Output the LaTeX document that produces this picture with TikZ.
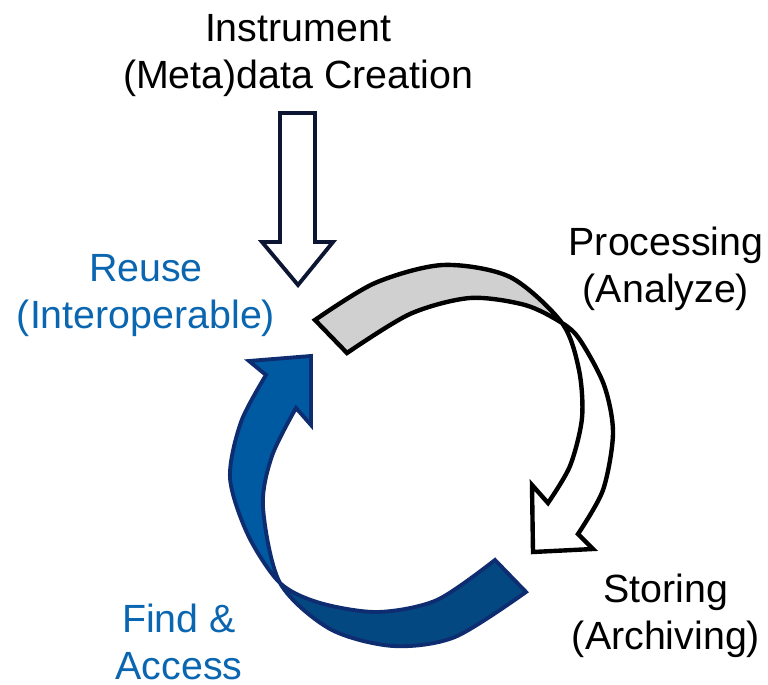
\documentclass[tikz,border=0pt]{standalone}
\usepackage{fontspec}
\setmainfont{Liberation Sans}
\definecolor{inputnavy}{RGB}{12,22,51}
\definecolor{frontblue}{RGB}{0,90,162}
\definecolor{backblue}{RGB}{4,72,130}
\definecolor{blueedge}{RGB}{14,44,112}
\definecolor{backgray}{RGB}{208,208,208}
\definecolor{labelblue}{RGB}{10,102,176}
\begin{document}
\begin{tikzpicture}[x=0.02cm, y=-0.02cm]
    \useasboundingbox (0,0) rectangle (768,685);
    \begin{scope}
        \tikzstyle{every node}=[inner sep=0, align=center, font=\fontsize{22.4pt}{26.6pt}\selectfont]
        \node (create) at (298,55.5) {Instrument\\(Meta)data Creation};
        \node[text=labelblue] (reuse) at (146,295.5) {Reuse\\(Interoperable)};
        \node (process) at (666,268.5) {Processing\\(Analyze)};
        \node (store) at (666,615.5) {Storing\\(Archiving)};
        \node[text=labelblue] (find) at (179,642) {Find \&\\Access};
    \end{scope}
    \begin{scope}
        \tikzstyle{input arrow}=[draw=inputnavy, line width=2.2pt, fill=white]
        \path[input arrow] (280,113) -- (315,113) -- (315,242) -- (333,242)
            -- (298,285) -- (262,242) -- (280,242) -- cycle;
    \end{scope}
    \begin{scope}
        \def\processpath{(315,320)
            -- plot[smooth] coordinates {(315,320) (375,283) (443,265) (510,277) (562,323)
                (579,370) (582,418) (570,466) (548,503)}
            -- (532,485) -- (533,552) -- (593,549) -- (578,534)
            -- plot[smooth] coordinates {(578,534) (603,490) (613,433) (604,385) (580,340) (562,323)
                (525,305) (470,298) (410,314) (347,353)}
            -- cycle}
        \begin{scope}
            \clip (0,0) -- (562,0) -- (562,323) -- (540,400) -- (0,400) -- cycle;
            \fill[backgray] \processpath;
        \end{scope}
        \draw[black, line width=2.5pt] \processpath;
    \end{scope}
    \begin{scope}
        \def\reusepath{(495,560)
            -- plot[smooth] coordinates {(495,560) (437,600) (378,612) (320,603) (280,583)
                (248,535) (230,478) (241,422) (266,375)}
            -- (249,361) -- (311,356) -- (311,425) -- (296,408)
            -- plot[smooth] coordinates {(296,408) (272,456) (263,507) (280,583)
                (330,629) (393,646) (455,637) (526,592)}
            -- cycle}
        \fill[frontblue] \reusepath;
        \begin{scope}
            \clip (279,583) -- (250,685) -- (768,685) -- (768,540) -- (300,540) -- cycle;
            \fill[backblue] \reusepath;
        \end{scope}
        \draw[blueedge, line width=2.2pt] \reusepath;
    \end{scope}
\end{tikzpicture}
\end{document}
